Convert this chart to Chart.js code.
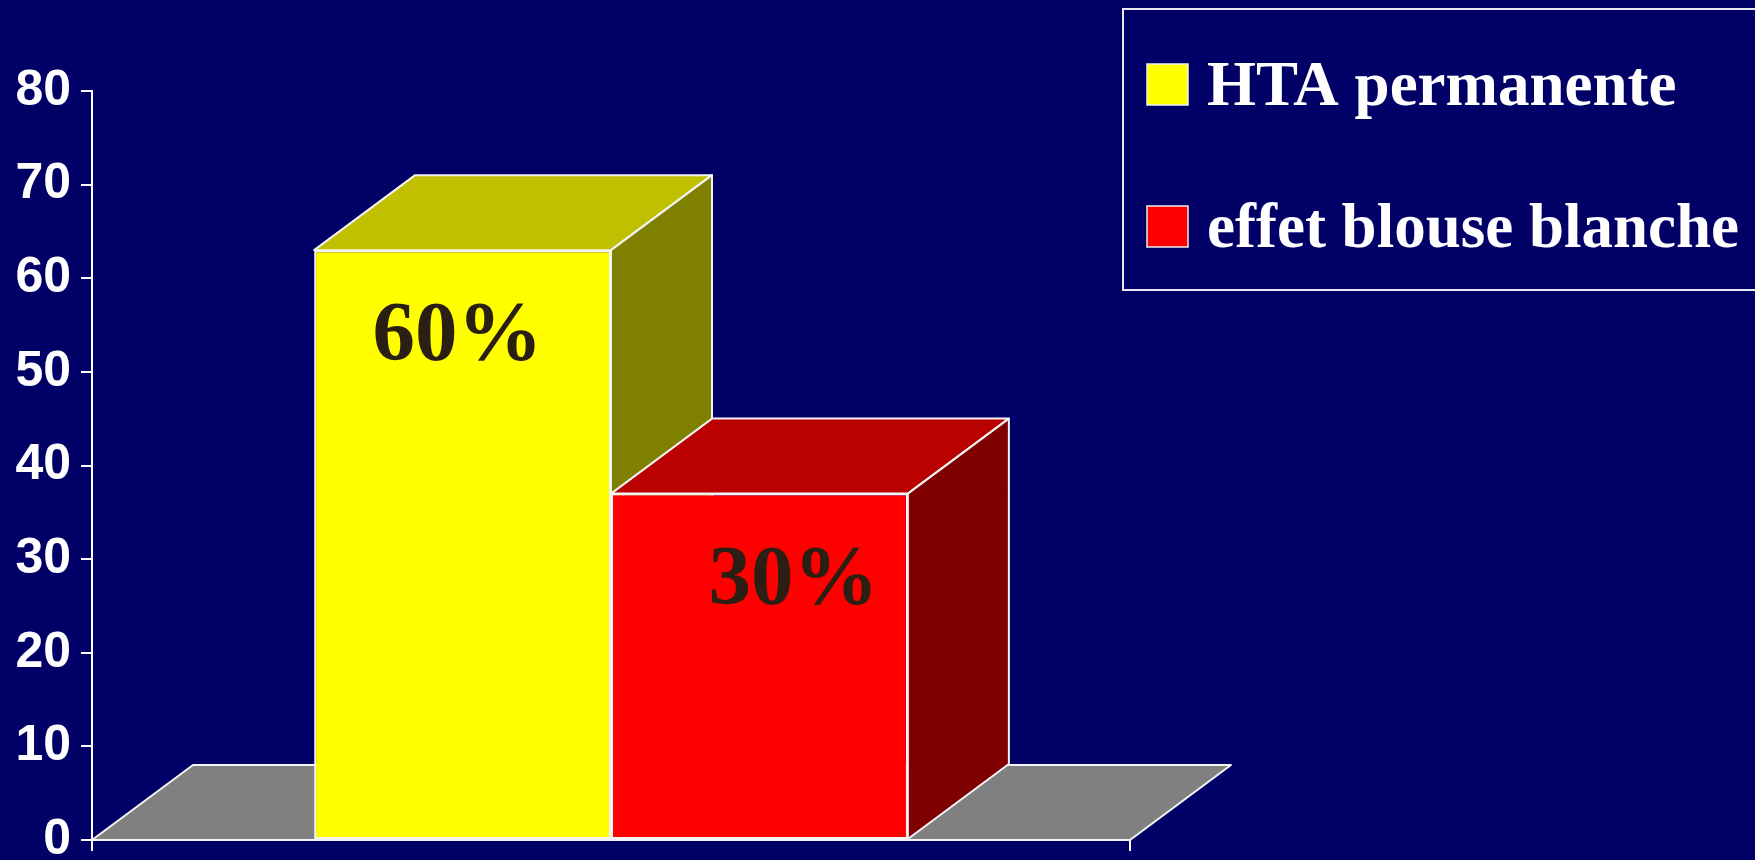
<!DOCTYPE html>
<html>
<head>
<meta charset="utf-8">
<title>HTA permanente / effet blouse blanche</title>
<script src="https://cdn.jsdelivr.net/npm/chart.js@4.4.1/dist/chart.umd.min.js"></script>
<style>
  html, body { margin: 0; padding: 0; background: #000066; }
  #wrap { width: 1755px; height: 860px; }
</style>
</head>
<body>
<div id="wrap"><canvas id="hta-chart" width="1755" height="860"></canvas></div>
<script>
// data
const categories = [''];
const seriesNames = ['HTA permanente', 'effet blouse blanche'];
const htaValues = [63];
const blouseValues = [37];
const barLabels = ['60%', '30%'];
const yTicks = [0, 10, 20, 30, 40, 50, 60, 70, 80];

// look
const frontColors = ['#FFFF00', '#FF0000'];
const topColors = ['#C0C000', '#BB0000'];
const sideColors = ['#808000', '#800000'];
const depthX = 101, depthY = 75;
const edge = '#F4F4F4';

function face(ctx, pts, fill) {
  ctx.beginPath();
  ctx.moveTo(pts[0][0], pts[0][1]);
  for (let i = 1; i < pts.length; i++) ctx.lineTo(pts[i][0], pts[i][1]);
  ctx.closePath();
  ctx.fillStyle = fill;
  ctx.fill();
  ctx.stroke();
}

const background = {
  id: 'background',
  beforeDraw(chart) {
    const ctx = chart.ctx;
    ctx.save();
    ctx.fillStyle = '#000066';
    ctx.fillRect(0, 0, chart.width, chart.height);
    ctx.restore();
  }
};

// floor + top and side faces of each bar
const box3d = {
  id: 'box3d',
  beforeDatasetsDraw(chart) {
    const ctx = chart.ctx;
    const a = chart.chartArea;
    ctx.save();
    ctx.strokeStyle = edge;
    ctx.lineWidth = 2;
    ctx.lineJoin = 'round';
    face(ctx, [[a.left, a.bottom], [a.right, a.bottom], [a.right + depthX, a.bottom - depthY], [a.left + depthX, a.bottom - depthY]], '#808080');
    chart.data.datasets.forEach((ds, i) => {
      chart.getDatasetMeta(i).data.forEach(bar => {
        const l = bar.x - bar.width / 2, r = bar.x + bar.width / 2;
        face(ctx, [[l, bar.y], [r, bar.y], [r + depthX, bar.y - depthY], [l + depthX, bar.y - depthY]], topColors[i]);
        face(ctx, [[r, bar.y], [r + depthX, bar.y - depthY], [r + depthX, bar.base - depthY], [r, bar.base]], sideColors[i]);
      });
    });
    ctx.restore();
  },
  afterDatasetsDraw(chart) {
    const ctx = chart.ctx;
    const shift = [-5, 34];
    ctx.save();
    ctx.font = 'bold 85px "Liberation Serif", "Times New Roman", serif';
    ctx.fillStyle = '#2B1F14';
    ctx.textAlign = 'center';
    ctx.textBaseline = 'alphabetic';
    chart.data.datasets.forEach((ds, i) => {
      const bar = chart.getDatasetMeta(i).data[0];
      ctx.fillText(barLabels[i], bar.x + shift[i], bar.y + 110);
    });
    ctx.restore();
  }
};

const boxLegend = {
  id: 'boxLegend',
  afterDraw(chart) {
    const ctx = chart.ctx;
    ctx.save();
    ctx.strokeStyle = '#E8E8F0';
    ctx.lineWidth = 2;
    ctx.strokeRect(1123, 9, 700, 281);
    ctx.font = 'bold 63px "Liberation Serif", "Times New Roman", serif';
    ctx.textBaseline = 'alphabetic';
    chart.data.datasets.forEach((ds, i) => {
      const y = 64 + i * 142;
      ctx.fillStyle = ds.backgroundColor;
      ctx.fillRect(1147, y, 41, 41);
      ctx.lineWidth = 1.5;
      ctx.strokeStyle = '#F0F0F0';
      ctx.strokeRect(1147, y, 41, 41);
      ctx.fillStyle = '#FFFFFF';
      ctx.fillText(ds.label, 1207, y + 41);
    });
    ctx.restore();
  }
};

const data = {
  labels: categories,
  datasets: [{
    label: seriesNames[0],
    data: htaValues,
    backgroundColor: frontColors[0],
    borderColor: edge,
    borderWidth: 2,
    borderSkipped: false
  }, {
    label: seriesNames[1],
    data: blouseValues,
    backgroundColor: frontColors[1],
    borderColor: edge,
    borderWidth: 2,
    borderSkipped: false
  }]
};

const config = {
  type: 'bar',
  data,
  options: {
    responsive: false,
    animation: false,
    datasets: { bar: { barPercentage: 1.0, categoryPercentage: 0.572 } },
    layout: { padding: { top: 91, right: 625, bottom: 9, left: 0 } },
    plugins: { legend: { display: false }, tooltip: { enabled: false } },
    scales: {
      x: {
        offset: true,
        afterFit(scale) { scale.height = 11; scale.paddingLeft = 0; scale.paddingRight = 0; },
        grid: { offset: true, drawOnChartArea: false, color: '#FFFFFF', lineWidth: 2, tickLength: 11 },
        border: { color: '#FFFFFF', width: 2 },
        ticks: { display: false }
      },
      y: {
        min: yTicks[0],
        max: yTicks[yTicks.length - 1],
        afterFit(scale) { scale.width = 92; scale.paddingTop = 0; scale.paddingBottom = 0; },
        afterBuildTicks(scale) { scale.ticks = yTicks.map(v => ({ value: v })); },
        grid: { drawOnChartArea: false, color: '#FFFFFF', lineWidth: 2, tickLength: 11 },
        border: { color: '#FFFFFF', width: 2 },
        ticks: {
          color: '#FFFFFF',
          padding: 10,
          font: { family: '"Liberation Sans", Arial, sans-serif', size: 50, weight: 'bold' }
        }
      }
    }
  },
  plugins: [background, box3d, boxLegend]
};

var htaChart = new Chart(document.getElementById('hta-chart'), config);
</script>
</body>
</html>
